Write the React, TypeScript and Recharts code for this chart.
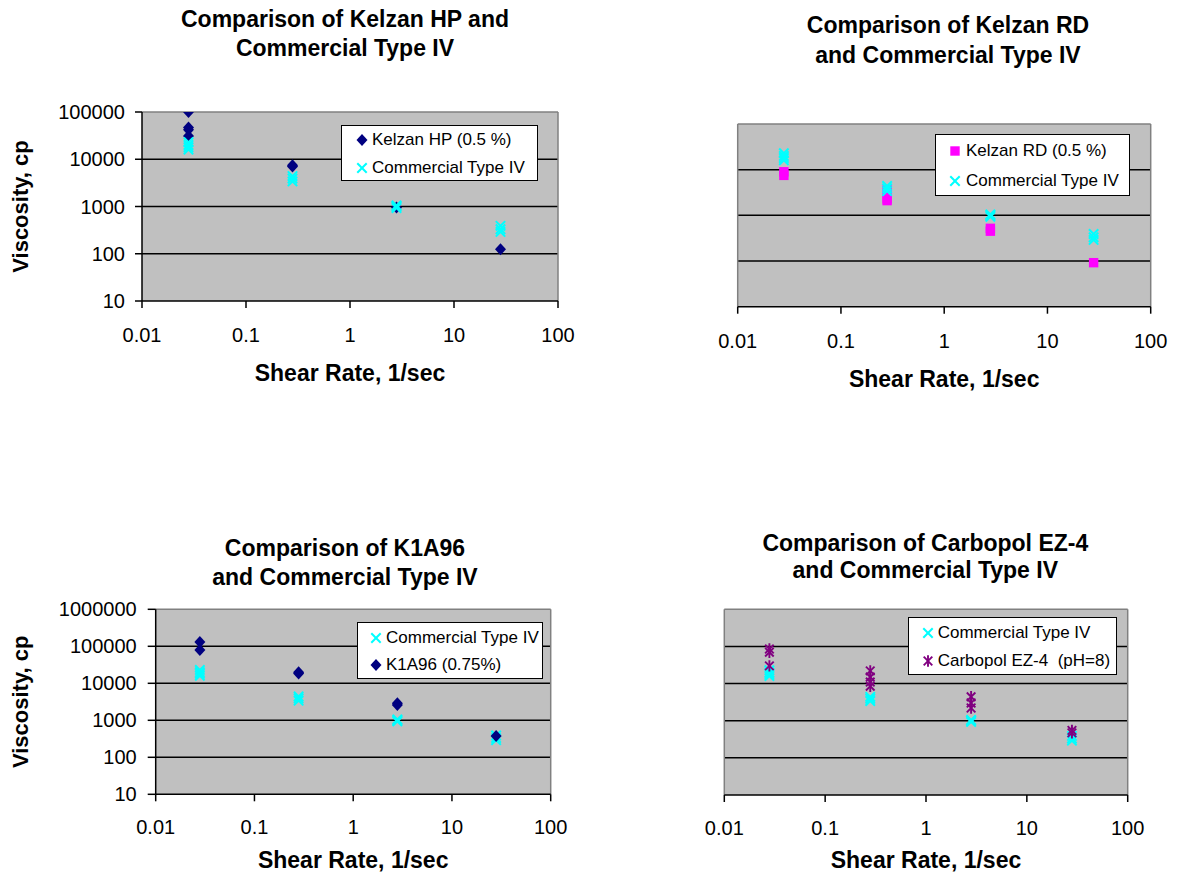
import React from 'react';
import { ScatterChart, Scatter, XAxis, YAxis, CartesianGrid, ReferenceLine, Legend } from 'recharts';

const FONT = '"Liberation Sans", Arial, Helvetica, sans-serif';

// ---- data ----
const shearRateTicks = [0.01, 0.1, 1, 10, 100];
const viscTicksTop = [10, 100, 1000, 10000, 100000];
const viscTicksBottom = [10, 100, 1000, 10000, 100000, 1000000];

const commercialRates = [0.028, 0.028, 0.028, 0.028, 0.28, 0.28, 0.28, 2.8, 2.8, 2.8, 28, 28, 28];
const commercialVisc = [23000, 20000, 18000, 16000, 4400, 3900, 3400, 1050, 1000, 930, 390, 330, 290];

const kelzanHpRates = [0.028, 0.028, 0.028, 0.028, 0.28, 0.28, 2.8, 28];
const kelzanHpVisc = [100000, 47000, 42000, 31000, 7500, 7000, 950, 124];

const kelzanRdRates = [0.028, 0.028, 0.28, 0.28, 0.28, 2.8, 2.8, 28];
const kelzanRdVisc = [9000, 7500, 3600, 2300, 2100, 520, 450, 92];

const k1a96Rates = [0.028, 0.028, 0.28, 0.28, 2.8, 2.8, 28];
const k1a96Visc = [130000, 80000, 20000, 18500, 2900, 2600, 377];

const carbopolRates = [0.028, 0.028, 0.028, 0.28, 0.28, 0.28, 0.28, 2.8, 2.8, 2.8, 28, 28];
const carbopolVisc = [85000, 70000, 30000, 22000, 15000, 11000, 8500, 4400, 3000, 2200, 550, 470];

const titles = [
  ['Comparison of Kelzan HP and', 'Commercial Type IV'],
  ['Comparison of Kelzan RD', 'and Commercial Type IV'],
  ['Comparison of K1A96', 'and Commercial Type IV'],
  ['Comparison of Carbopol EZ-4', 'and Commercial Type IV'],
];

const legendLabels = {
  kelzanHp: 'Kelzan HP (0.5 %)',
  kelzanRd: 'Kelzan RD (0.5 %)',
  commercial: 'Commercial Type IV',
  k1a96: 'K1A96 (0.75%)',
  carbopol: 'Carbopol EZ-4  (pH=8)',
};

const toPoints = (xs: number[], ys: number[]) => xs.map((x, i) => ({ x, y: ys[i] }));

// ---- colours ----
const NAVY = '#000080';
const CYAN = '#00FFFF';
const MAGENTA = '#FF00FF';
const PURPLE = '#800080';

// ---- markers ----
type MK = 'diamond' | 'cross' | 'square' | 'star';
function Marker({ kind, cx, cy }: { kind: MK; cx: number; cy: number }) {
  if (kind === 'diamond') {
    return <polygon points={`${cx},${cy - 6} ${cx + 5.5},${cy} ${cx},${cy + 6} ${cx - 5.5},${cy}`} fill={NAVY} />;
  }
  if (kind === 'square') {
    return <rect x={cx - 4.7} y={cy - 4.7} width={9.4} height={9.4} fill={MAGENTA} />;
  }
  if (kind === 'cross') {
    const s = 4.7;
    return (
      <g stroke={CYAN} strokeWidth={2}>
        <line x1={cx - s} y1={cy - s} x2={cx + s} y2={cy + s} />
        <line x1={cx - s} y1={cy + s} x2={cx + s} y2={cy - s} />
      </g>
    );
  }
  const s = 4.3;
  return (
    <g stroke={PURPLE} strokeWidth={1.9}>
      <line x1={cx - s} y1={cy - s} x2={cx + s} y2={cy + s} />
      <line x1={cx - s} y1={cy + s} x2={cx + s} y2={cy - s} />
      <line x1={cx} y1={cy - 5.7} x2={cx} y2={cy + 5.7} />
    </g>
  );
}

const shapeOf = (kind: MK) => (p: any) => <Marker kind={kind} cx={p.cx} cy={p.cy} />;

// ---- legend ----
type LegendCfg = { x: number; y: number; w: number; h: number; rows: number[]; mx: number; tx: number };
function LegendBox({ cfg, items }: { cfg: LegendCfg; items: { kind: MK; label: string }[] }) {
  return (
    <div
      style={{
        position: 'relative',
        width: cfg.w,
        height: cfg.h,
        boxSizing: 'border-box',
        border: '1.3px solid #000',
        background: '#fff',
        fontFamily: FONT,
        fontSize: 17,
        color: '#000',
      }}
    >
      {items.map((it, i) => (
        <React.Fragment key={i}>
          <svg style={{ position: 'absolute', left: cfg.mx - 7, top: cfg.rows[i] - 7 }} width={14} height={14}>
            <Marker kind={it.kind} cx={7} cy={7} />
          </svg>
          <span
            style={{
              position: 'absolute',
              left: cfg.tx,
              top: cfg.rows[i] - 11,
              lineHeight: '22px',
              whiteSpace: 'pre',
            }}
          >
            {it.label}
          </span>
        </React.Fragment>
      ))}
    </div>
  );
}

// ---- panel ----
type SeriesCfg = { name: string; data: { x: number; y: number }[]; kind: MK; fill: string };
type PanelCfg = {
  left: number;
  top: number;
  width: number;
  height: number;
  plot: { x: number; y: number; w: number; h: number };
  yDomain: [number, number];
  yTicks: number[];
  showY: boolean;
  yTickSize: number;
  yTickMargin: number;
  xTickMargin: number;
  xLabelOffset: number;
  grid: number[];
  series: SeriesCfg[];
  legend: LegendCfg;
  legendItems: { kind: MK; label: string }[];
};

function Panel({ c }: { c: PanelCfg }) {
  const xAxisHeight = c.height - c.plot.y - c.plot.h;
  const margin = {
    top: c.plot.y,
    right: c.width - c.plot.x - c.plot.w,
    bottom: 0,
    left: c.showY ? 0 : c.plot.x,
  };
  const tickStyle = { fontFamily: FONT, fontSize: 20, fill: '#000' };
  const labelStyle = { fontFamily: FONT, fontSize: 23, fontWeight: 700, fill: '#000' };
  return (
    <div style={{ position: 'absolute', left: c.left, top: c.top, width: c.width, height: c.height }}>
      <ScatterChart width={c.width} height={c.height} margin={margin}>
        <CartesianGrid fill="#C0C0C0" horizontal={false} vertical={false} />
        <XAxis
          type="number"
          dataKey="x"
          scale="log"
          domain={[0.01, 100]}
          ticks={shearRateTicks}
          allowDataOverflow
          height={xAxisHeight}
          tick={tickStyle}
          tickSize={7}
          tickMargin={c.xTickMargin}
          axisLine={{ stroke: '#000', strokeWidth: 1.5 }}
          tickLine={{ stroke: '#000', strokeWidth: 1.5 }}
          interval={0}
          label={{ value: 'Shear Rate, 1/sec', position: 'insideBottom', offset: c.xLabelOffset, style: labelStyle }}
        />
        <YAxis
          type="number"
          dataKey="y"
          scale="log"
          domain={c.yDomain}
          ticks={c.yTicks}
          allowDataOverflow
          hide={!c.showY}
          width={c.showY ? c.plot.x : 0}
          tick={tickStyle}
          tickSize={c.yTickSize}
          tickMargin={c.yTickMargin}
          axisLine={{ stroke: '#000', strokeWidth: 1.5 }}
          tickLine={{ stroke: '#000', strokeWidth: 1.5 }}
          interval={0}
          label={
            c.showY
              ? { value: 'Viscosity, cp', angle: -90, position: 'insideLeft', offset: 20, style: { ...labelStyle, fontSize: 22, textAnchor: 'middle' } }
              : undefined
          }
        />
        {c.grid.map((g) => (
          <ReferenceLine key={g} y={g} stroke="#000" strokeWidth={1.5} />
        ))}
        <ReferenceLine y={c.yDomain[1]} stroke="#808080" strokeWidth={1.5} />
        <ReferenceLine x={100} stroke="#808080" strokeWidth={1.5} />
        {!c.showY && <ReferenceLine x={0.01} stroke="#808080" strokeWidth={1.5} />}
        {c.series.map((s) => (
          <Scatter key={s.name} name={s.name} data={s.data} fill={s.fill} shape={shapeOf(s.kind)} isAnimationActive={false} />
        ))}
        <Legend
          layout="vertical"
          align="center"
          verticalAlign="middle"
          wrapperStyle={{ left: c.legend.x, top: c.legend.y, width: c.legend.w, height: c.legend.h }}
          content={() => <LegendBox cfg={c.legend} items={c.legendItems} />}
        />
      </ScatterChart>
    </div>
  );
}

const panels: PanelCfg[] = [
  {
    left: 0, top: 0, width: 590, height: 400,
    plot: { x: 142, y: 112, w: 416, h: 189 },
    yDomain: [10, 100000], yTicks: viscTicksTop, showY: true, yTickSize: 7, yTickMargin: 10,
    xTickMargin: 20, xLabelOffset: 19, grid: [100, 1000, 10000],
    series: [
      { name: legendLabels.kelzanHp, data: toPoints(kelzanHpRates, kelzanHpVisc), kind: 'diamond', fill: NAVY },
      { name: legendLabels.commercial, data: toPoints(commercialRates, commercialVisc), kind: 'cross', fill: CYAN },
    ],
    legend: { x: 341, y: 125, w: 197, h: 56, rows: [14.3, 42.3], mx: 19.7, tx: 30 },
    legendItems: [
      { kind: 'diamond', label: legendLabels.kelzanHp },
      { kind: 'cross', label: legendLabels.commercial },
    ],
  },
  {
    left: 590, top: 0, width: 589, height: 400,
    plot: { x: 147.7, y: 124, w: 413, h: 182.7 },
    yDomain: [10, 100000], yTicks: viscTicksTop, showY: false, yTickSize: 7, yTickMargin: 10,
    xTickMargin: 20, xLabelOffset: 13, grid: [100, 1000, 10000],
    series: [
      { name: legendLabels.kelzanRd, data: toPoints(kelzanRdRates, kelzanRdVisc), kind: 'square', fill: MAGENTA },
      { name: legendLabels.commercial, data: toPoints(commercialRates, commercialVisc), kind: 'cross', fill: CYAN },
    ],
    legend: { x: 345, y: 134.3, w: 195, h: 61.7, rows: [15.7, 45.7], mx: 19.3, tx: 30 },
    legendItems: [
      { kind: 'square', label: legendLabels.kelzanRd },
      { kind: 'cross', label: legendLabels.commercial },
    ],
  },
  {
    left: 0, top: 420, width: 590, height: 453,
    plot: { x: 155.7, y: 189.3, w: 395, h: 185 },
    yDomain: [10, 1000000], yTicks: viscTicksBottom, showY: true, yTickSize: 8, yTickMargin: 11,
    xTickMargin: 18.3, xLabelOffset: 5, grid: [100, 1000, 10000, 100000],
    series: [
      { name: legendLabels.commercial, data: toPoints(commercialRates, commercialVisc), kind: 'cross', fill: CYAN },
      { name: legendLabels.k1a96, data: toPoints(k1a96Rates, k1a96Visc), kind: 'diamond', fill: NAVY },
    ],
    legend: { x: 356.7, y: 201.7, w: 186, h: 57.6, rows: [15, 42.6], mx: 18.3, tx: 28.3 },
    legendItems: [
      { kind: 'cross', label: legendLabels.commercial },
      { kind: 'diamond', label: legendLabels.k1a96 },
    ],
  },
  {
    left: 590, top: 420, width: 589, height: 453,
    plot: { x: 134.3, y: 189.3, w: 403.4, h: 185.7 },
    yDomain: [10, 1000000], yTicks: viscTicksBottom, showY: false, yTickSize: 8, yTickMargin: 11,
    xTickMargin: 18.3, xLabelOffset: 5, grid: [100, 1000, 10000, 100000],
    series: [
      { name: legendLabels.commercial, data: toPoints(commercialRates, commercialVisc), kind: 'cross', fill: CYAN },
      { name: legendLabels.carbopol, data: toPoints(carbopolRates, carbopolVisc), kind: 'star', fill: PURPLE },
    ],
    legend: { x: 318.3, y: 196.7, w: 209, h: 58.6, rows: [15.6, 43.3], mx: 18.4, tx: 28.4 },
    legendItems: [
      { kind: 'cross', label: legendLabels.commercial },
      { kind: 'star', label: legendLabels.carbopol },
    ],
  },
];

const titlePos = [
  { cx: 345, cy: 19.5, lh: 29 },
  { cx: 948, cy: 24.5, lh: 30 },
  { cx: 345, cy: 548, lh: 29 },
  { cx: 925.3, cy: 543.3, lh: 27 },
];

export default function App() {
  return (
    <div style={{ position: 'absolute', left: 0, top: 0, width: 1179, height: 873, background: '#fff', overflow: 'hidden' }}>
      {panels.map((p, i) => (
        <Panel key={i} c={p} />
      ))}
      {titles.map((t, i) => (
        <div
          key={i}
          style={{
            position: 'absolute',
            left: titlePos[i].cx - 250,
            top: titlePos[i].cy - titlePos[i].lh / 2,
            width: 500,
            textAlign: 'center',
            fontFamily: FONT,
            fontWeight: 700,
            fontSize: 23,
            lineHeight: `${titlePos[i].lh}px`,
            color: '#000',
          }}
        >
          {t.map((line, j) => (
            <div key={j}>{line}</div>
          ))}
        </div>
      ))}
    </div>
  );
}
